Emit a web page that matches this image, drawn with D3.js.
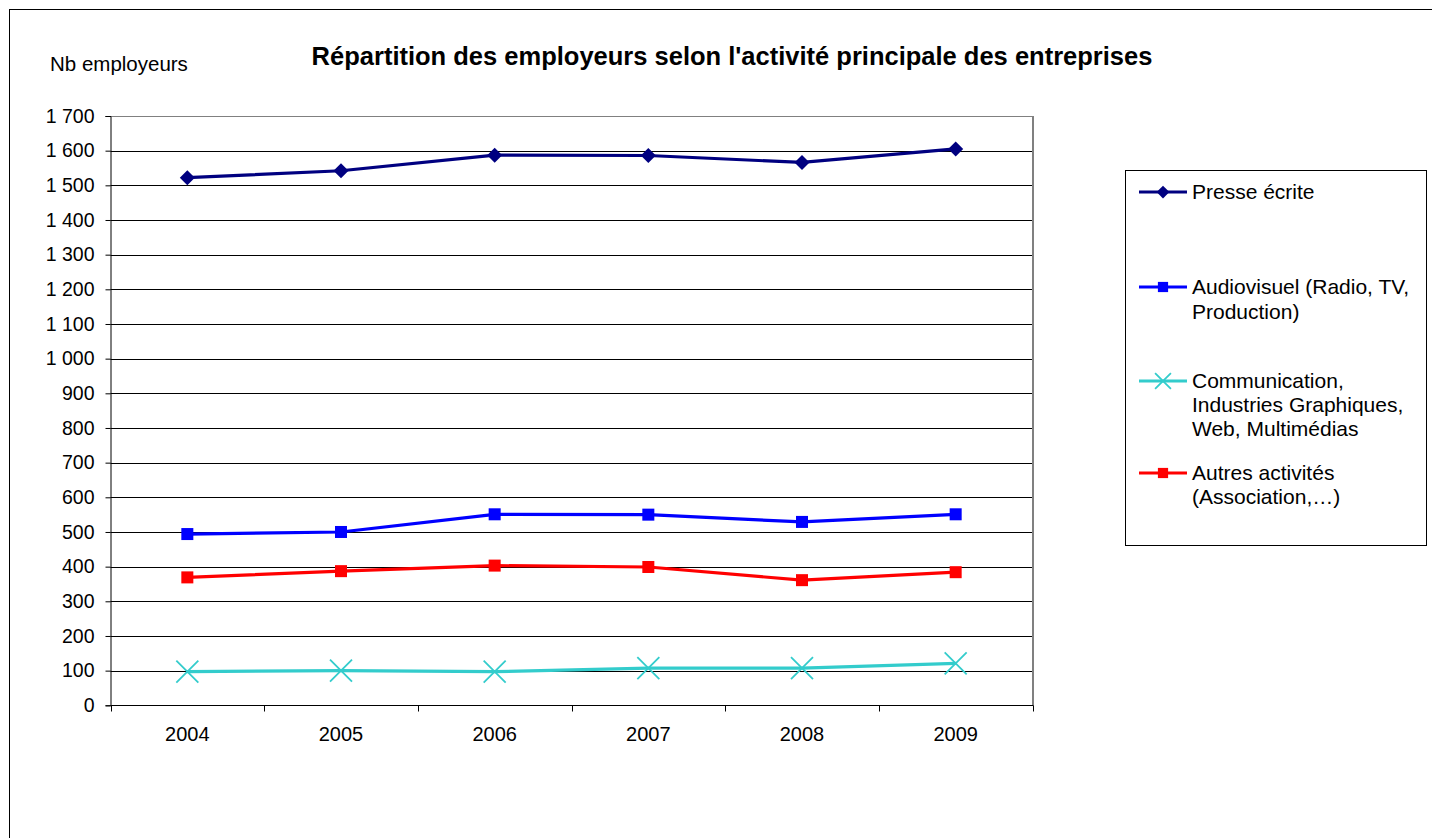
<!DOCTYPE html>
<html><head><meta charset="utf-8">
<script src="https://cdn.jsdelivr.net/npm/d3@7"></script>
<style>body{margin:0;background:#fff}svg{display:block;font-family:"Liberation Sans",Arial,sans-serif}</style>
</head><body>
<svg id="c" width="1432" height="838"></svg>
<script>
const years = ["2004","2005","2006","2007","2008","2009"];
const presse = [1522, 1542, 1587, 1586, 1566, 1605];
const audiovisuel = [494, 500, 551, 550, 529, 551];
const communication = [97, 100, 97, 107, 107, 121];
const autres = [369, 387, 403, 399, 361, 384];
const yTicks = [0,100,200,300,400,500,600,700,800,900,1000,1100,1200,1300,1400,1500,1600,1700];
const seriesNames = [["Presse écrite"],["Audiovisuel (Radio, TV,","Production)"],["Communication,","Industries Graphiques,","Web, Multimédias"],["Autres activités","(Association,…)"]];

const series = [
  {name:seriesNames[0], values:presse, color:"#000080", marker:"diamond"},
  {name:seriesNames[1], values:audiovisuel, color:"#0000ff", marker:"square"},
  {name:seriesNames[2], values:communication, color:"#33cccc", marker:"x"},
  {name:seriesNames[3], values:autres, color:"#ff0000", marker:"square"}
];

const svg = d3.select("#c");
const L=110.5, R=1032.5, T=116, B=705.3;
const x = d3.scaleBand().domain(years).range([L,R]);
const y = d3.scaleLinear().domain([0,1700]).range([B,T]);
const fmt = v => d3.format(",")(v).replace(/,/g," ");

// outer frame
svg.append("rect").attr("x",9.5).attr("y",9.5).attr("width",1440).attr("height",850)
  .attr("fill","none").attr("stroke","#000").attr("stroke-width",1);

// gridlines
svg.append("g").selectAll("line").data(yTicks.filter(d=>d>0)).join("line")
  .attr("x1",L).attr("x2",R).attr("y1",d=>Math.round(y(d))+0.5).attr("y2",d=>Math.round(y(d))+0.5)
  .attr("stroke",d=>d===1700?"#808080":"#000").attr("stroke-width",1);
// right plot border
svg.append("line").attr("x1",R+0.5).attr("x2",R+0.5).attr("y1",T).attr("y2",B)
  .attr("stroke","#808080").attr("stroke-width",2);

// y axis
const yAxis = d3.axisLeft(y).tickValues(yTicks).tickFormat(fmt).tickSize(5).tickPadding(11);
const gy = svg.append("g").attr("transform",`translate(${L},0)`).call(yAxis);
gy.select(".domain").attr("stroke","#000");
gy.selectAll(".tick text").attr("font-size",19.5).attr("font-family","Liberation Sans, Arial").attr("fill","#000");

// x axis
const gx = svg.append("g").attr("transform",`translate(0,${Math.round(B)+0.5})`);
gx.append("line").attr("x1",L).attr("x2",R+1).attr("stroke","#000");
const bounds = years.map(d=>x(d)).concat([x.range()[1]]);
gx.selectAll("line.tk").data(bounds).join("line").attr("class","tk")
  .attr("x1",d=>Math.round(d)+0.5).attr("x2",d=>Math.round(d)+0.5).attr("y1",0).attr("y2",6).attr("stroke","#000");
gx.selectAll("text").data(years).join("text")
  .attr("x",d=>x(d)+x.bandwidth()/2).attr("y",35).attr("text-anchor","middle")
  .attr("font-size",20).text(d=>d);

// lines & markers
const line = d3.line().x((d,i)=>x(years[i])+x.bandwidth()/2).y(d=>y(d));
function drawMarker(g, type, color, cx, cy, scale=1){
  if(type==="diamond"){
    const s=7.5*scale;
    g.append("path").attr("d",`M${cx},${cy-s}L${cx+s},${cy}L${cx},${cy+s}L${cx-s},${cy}Z`).attr("fill",color);
  } else if(type==="square"){
    const s=6*scale;
    g.append("rect").attr("x",cx-s).attr("y",cy-s).attr("width",2*s).attr("height",2*s).attr("fill",color);
  } else {
    const s=11*scale;
    g.append("path").attr("d",`M${cx-s},${cy-s}L${cx+s},${cy+s}M${cx-s},${cy+s}L${cx+s},${cy-s}`)
      .attr("stroke",color).attr("stroke-width",1.8).attr("fill","none");
  }
}
series.forEach(s=>{
  svg.append("path").datum(s.values).attr("d",line).attr("fill","none")
    .attr("stroke",s.color).attr("stroke-width",3.2).attr("stroke-linejoin","round");
  const g = svg.append("g");
  s.values.forEach((v,i)=>drawMarker(g,s.marker,s.color,x(years[i])+x.bandwidth()/2,y(v)));
});

// title and axis label
svg.append("text").attr("x",732).attr("y",65).attr("text-anchor","middle")
  .attr("font-size",25.5).attr("font-weight","bold").text("Répartition des employeurs selon l'activité principale des entreprises");
svg.append("text").attr("x",50).attr("y",71).attr("font-size",20.5).text("Nb employeurs");

// legend
svg.append("rect").attr("x",1125.5).attr("y",170.5).attr("width",301).attr("height",375)
  .attr("fill","none").attr("stroke","#000").attr("stroke-width",1);
const legY = [192, 287, 381, 473];
const legGap = [24, 25, 24, 24];
series.forEach((s,i)=>{
  const g = svg.append("g");
  g.append("line").attr("x1",1139).attr("x2",1187).attr("y1",legY[i]).attr("y2",legY[i])
    .attr("stroke",s.color).attr("stroke-width",3.2);
  drawMarker(g,s.marker,s.color,1163,legY[i], s.marker==="x"?0.72:0.85);
  s.name.forEach((t,j)=>{
    g.append("text").attr("x",1192).attr("y",legY[i]+7+j*legGap[i]).attr("font-size",21).text(t);
  });
});
</script>
</body></html>
